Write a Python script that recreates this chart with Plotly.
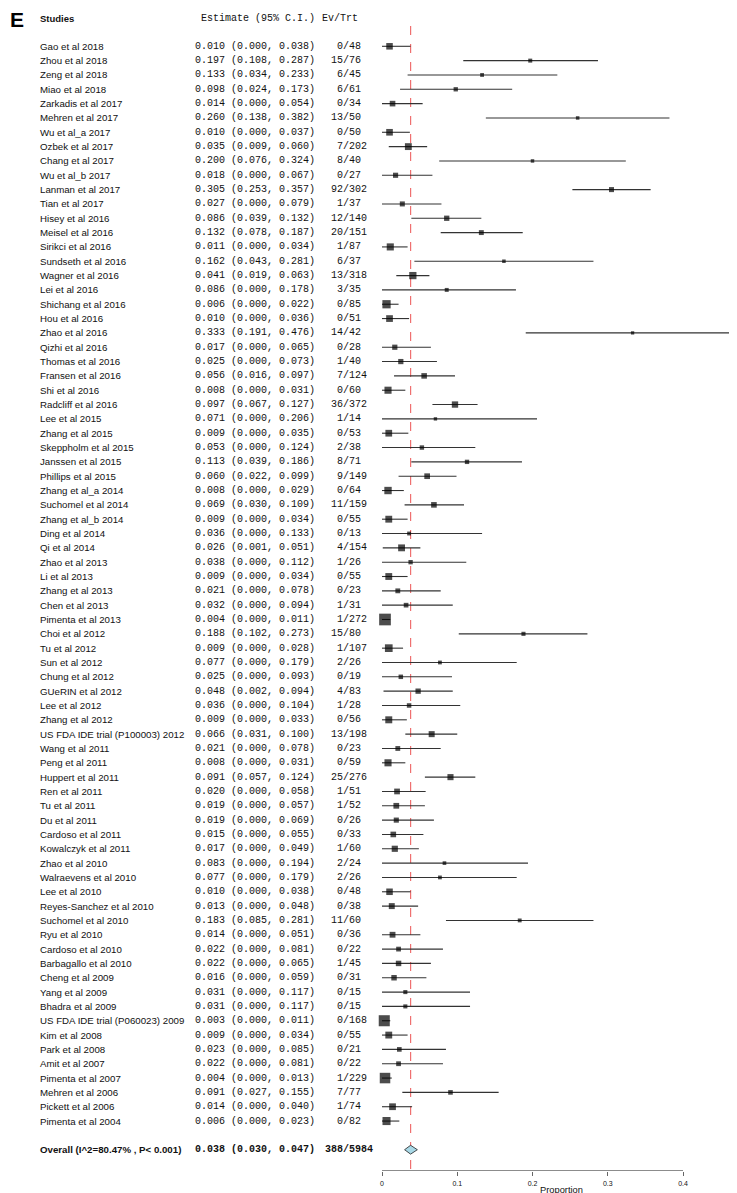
import plotly.graph_objects as go

# ---------------- data ----------------
studies = [
    "Gao et al 2018", "Zhou et al 2018", "Zeng et al 2018", "Miao et al 2018",
    "Zarkadis et al 2017", "Mehren et al 2017", "Wu et al_a 2017", "Ozbek et al 2017",
    "Chang et al 2017", "Wu et al_b 2017", "Lanman et al 2017", "Tian et al 2017",
    "Hisey et al 2016", "Meisel et al 2016", "Sirikci et al 2016", "Sundseth et al 2016",
    "Wagner et al 2016", "Lei et al 2016", "Shichang et al 2016", "Hou et al 2016",
    "Zhao et al 2016", "Qizhi et al 2016", "Thomas et al 2016", "Fransen et al 2016",
    "Shi et al 2016", "Radcliff et al 2016", "Lee et al 2015", "Zhang et al 2015",
    "Skeppholm et al 2015", "Janssen et al 2015", "Phillips et al 2015", "Zhang et al_a 2014",
    "Suchomel et al 2014", "Zhang et al_b 2014", "Ding et al 2014", "Qi et al 2014",
    "Zhao et al 2013", "Li et al 2013", "Zhang et al 2013", "Chen et al 2013",
    "Pimenta et al 2013", "Choi et al 2012", "Tu et al 2012", "Sun et al 2012",
    "Chung et al 2012", "GUeRIN et al 2012", "Lee et al 2012", "Zhang et al 2012",
    "US FDA IDE trial (P100003) 2012", "Wang et al 2011", "Peng et al 2011", "Huppert et al 2011",
    "Ren et al 2011", "Tu et al 2011", "Du et al 2011", "Cardoso et al 2011",
    "Kowalczyk et al 2011", "Zhao et al 2010", "Walraevens et al 2010", "Lee et al 2010",
    "Reyes-Sanchez et al 2010", "Suchomel et al 2010", "Ryu et al 2010", "Cardoso et al 2010",
    "Barbagallo et al 2010", "Cheng et al 2009", "Yang et al 2009", "Bhadra et al 2009",
    "US FDA IDE trial (P060023) 2009", "Kim et al 2008", "Park et al 2008", "Amit et al 2007",
    "Pimenta et al 2007", "Mehren et al 2006", "Pickett et al 2006", "Pimenta et al 2004",
]
estimate = [
    0.010, 0.197, 0.133, 0.098, 0.014, 0.260, 0.010, 0.035, 0.200, 0.018, 0.305, 0.027,
    0.086, 0.132, 0.011, 0.162, 0.041, 0.086, 0.006, 0.010, 0.333, 0.017, 0.025, 0.056,
    0.008, 0.097, 0.071, 0.009, 0.053, 0.113, 0.060, 0.008, 0.069, 0.009, 0.036, 0.026,
    0.038, 0.009, 0.021, 0.032, 0.004, 0.188, 0.009, 0.077, 0.025, 0.048, 0.036, 0.009,
    0.066, 0.021, 0.008, 0.091, 0.020, 0.019, 0.019, 0.015, 0.017, 0.083, 0.077, 0.010,
    0.013, 0.183, 0.014, 0.022, 0.022, 0.016, 0.031, 0.031, 0.003, 0.009, 0.023, 0.022,
    0.004, 0.091, 0.014, 0.006,
]
ci_lower = [
    0.000, 0.108, 0.034, 0.024, 0.000, 0.138, 0.000, 0.009, 0.076, 0.000, 0.253, 0.000,
    0.039, 0.078, 0.000, 0.043, 0.019, 0.000, 0.000, 0.000, 0.191, 0.000, 0.000, 0.016,
    0.000, 0.067, 0.000, 0.000, 0.000, 0.039, 0.022, 0.000, 0.030, 0.000, 0.000, 0.001,
    0.000, 0.000, 0.000, 0.000, 0.000, 0.102, 0.000, 0.000, 0.000, 0.002, 0.000, 0.000,
    0.031, 0.000, 0.000, 0.057, 0.000, 0.000, 0.000, 0.000, 0.000, 0.000, 0.000, 0.000,
    0.000, 0.085, 0.000, 0.000, 0.000, 0.000, 0.000, 0.000, 0.000, 0.000, 0.000, 0.000,
    0.000, 0.027, 0.000, 0.000,
]
ci_upper = [
    0.038, 0.287, 0.233, 0.173, 0.054, 0.382, 0.037, 0.060, 0.324, 0.067, 0.357, 0.079,
    0.132, 0.187, 0.034, 0.281, 0.063, 0.178, 0.022, 0.036, 0.476, 0.065, 0.073, 0.097,
    0.031, 0.127, 0.206, 0.035, 0.124, 0.186, 0.099, 0.029, 0.109, 0.034, 0.133, 0.051,
    0.112, 0.034, 0.078, 0.094, 0.011, 0.273, 0.028, 0.179, 0.093, 0.094, 0.104, 0.033,
    0.100, 0.078, 0.031, 0.124, 0.058, 0.057, 0.069, 0.055, 0.049, 0.194, 0.179, 0.038,
    0.048, 0.281, 0.051, 0.081, 0.065, 0.059, 0.117, 0.117, 0.011, 0.034, 0.085, 0.081,
    0.013, 0.155, 0.040, 0.023,
]
events = [
    0, 15, 6, 6, 0, 13, 0, 7, 8, 0, 92, 1,
    12, 20, 1, 6, 13, 3, 0, 0, 14, 0, 1, 7,
    0, 36, 1, 0, 2, 8, 9, 0, 11, 0, 0, 4,
    1, 0, 0, 1, 1, 15, 1, 2, 0, 4, 1, 0,
    13, 0, 0, 25, 1, 1, 0, 0, 1, 2, 2, 0,
    0, 11, 0, 0, 1, 0, 0, 0, 0, 0, 0, 0,
    1, 7, 1, 0,
]
totals = [
    48, 76, 45, 61, 34, 50, 50, 202, 40, 27, 302, 37,
    140, 151, 87, 37, 318, 35, 85, 51, 42, 28, 40, 124,
    60, 372, 14, 53, 38, 71, 149, 64, 159, 55, 13, 154,
    26, 55, 23, 31, 272, 80, 107, 26, 19, 83, 28, 56,
    198, 23, 59, 276, 51, 52, 26, 33, 60, 24, 26, 48,
    38, 60, 36, 22, 45, 31, 15, 15, 168, 55, 21, 22,
    229, 77, 74, 82,
]
overall_label = "Overall (I^2=80.47% , P< 0.001)"
overall_est = 0.038
overall_lower = 0.030
overall_upper = 0.047
overall_events = 388
overall_total = 5984
tick_values = [0, 0.1, 0.2, 0.3, 0.4]
tick_labels = ["0", "0.1", "0.2", "0.3", "0.4"]
panel_letter = "E"
header_study = "Studies"
header_est = "Estimate (95% C.I.)"
header_ev = "Ev/Trt"
x_title = "Proportion"

# ---------------- geometry ----------------
W, H = 737, 1193
ROW0, DY = 38.3, 14.33          # pixel of first row, row spacing
X0PX, PXU = 374.0, 752.5        # pixel of x=0, pixels per unit
AXIS_PX = 1163.0

def row_of(px):
    return (px - ROW0) / DY

def paper_x(px):
    return px / W

n = len(studies)
rows = list(range(n))
overall_row = n + 1
r_top = row_of(0)
r_axis = row_of(AXIS_PX)

SANS = "Liberation Sans, Arial, sans-serif"
MONO = "Liberation Mono, Courier New, monospace"
NB = "\u00a0"

fig = go.Figure()

# CI lines
lx, ly = [], []
for r, lo, hi in zip(rows, ci_lower, ci_upper):
    lx += [lo, hi, None]
    ly += [r, r, None]
fig.add_trace(go.Scatter(x=lx, y=ly, mode="lines",
                         line=dict(color="#333333", width=1.1),
                         hoverinfo="skip", showlegend=False))

# squares sized by precision
ref_se = 0.00357
sizes = []
for e, hi in zip(estimate, ci_upper):
    se = max((hi - e) / 1.96, 1e-4)
    sizes.append(max(3.3, 11.7 * (ref_se / se) ** 0.42))
fig.add_trace(go.Scatter(x=estimate, y=rows, mode="markers",
                         marker=dict(symbol="square", size=sizes, color="black",
                                     line=dict(width=0)),
                         cliponaxis=False, hoverinfo="skip", showlegend=False))

# overall diamond
dh = 0.31
fig.add_trace(go.Scatter(
    x=[overall_lower, overall_est, overall_upper, overall_est, overall_lower],
    y=[overall_row, overall_row - dh, overall_row, overall_row + dh, overall_row],
    mode="lines", fill="toself", fillcolor="#a8d8e6",
    line=dict(color="#222222", width=0.8),
    hoverinfo="skip", showlegend=False))

# dashed reference line
fig.add_shape(type="line", xref="x", yref="y",
              x0=overall_est, x1=overall_est, y0=row_of(18), y1=r_axis,
              line=dict(color="#ef7070", width=1.2, dash="dash"), layer="below")
# axis line from 0 to 0.4
fig.add_shape(type="line", xref="x", yref="y",
              x0=tick_values[0], x1=tick_values[-1], y0=r_axis, y1=r_axis,
              line=dict(color="#666666", width=1.6))

ann = []
def add_text(px, row, text, anchor, font, size, bold=False, color="#111111"):
    ann.append(dict(xref="paper", yref="y", x=paper_x(px), y=row,
                    text=("<b>%s</b>" % text) if bold else text,
                    showarrow=False, xanchor=anchor, yanchor="middle",
                    font=dict(family=font, size=size, color=color),
                    borderpad=0))

def ev_text(ev, tot, width=2):
    left = str(ev)
    return NB * max(0, width - len(left)) + left + "/" + str(tot)

# header
ann.append(dict(xref="paper", yref="paper", x=paper_x(1), y=1 - 11.5 / H,
                text="<b>%s</b>" % panel_letter, showarrow=False,
                xanchor="left", yanchor="middle",
                font=dict(family=SANS, size=21, color="black"), borderpad=0))
add_text(31, row_of(10), header_study, "left", SANS, 9.5, bold=True)
add_text(308, row_of(10), header_est, "right", MONO, 10)
add_text(313, row_of(10), header_ev, "left", MONO, 10)

for r, s, e, lo, hi, ev, tot in zip(rows, studies, estimate, ci_lower, ci_upper, events, totals):
    add_text(31, r, s, "left", SANS, 9.7)
    add_text(308, r, "%.3f (%.3f, %.3f)" % (e, lo, hi), "right", MONO, 10)
    add_text(322, r, ev_text(ev, tot), "left", MONO, 10)

add_text(31, overall_row, overall_label, "left", SANS, 9.7, bold=True)
add_text(308, overall_row, "%.3f (%.3f, %.3f)" % (overall_est, overall_lower, overall_upper),
         "right", MONO, 10, bold=True)
add_text(316, overall_row, ev_text(overall_events, overall_total, 3), "left", MONO, 10, bold=True)

# x title
ann.append(dict(xref="paper", yref="paper", x=paper_x(553), y=1 - 1182 / H,
                text=x_title, showarrow=False, xanchor="center", yanchor="middle",
                font=dict(family=SANS, size=9.3, color="#111111"), borderpad=0))

fig.update_layout(
    width=W, height=H,
    margin=dict(l=0, r=0, t=0, b=0),
    paper_bgcolor="white", plot_bgcolor="white",
    annotations=ann,
    xaxis=dict(domain=[0, 1], range=[-X0PX / PXU, (W - X0PX) / PXU],
               tickvals=tick_values, ticktext=tick_labels,
               ticks="outside", ticklen=4, tickwidth=1, tickcolor="#666666",
               showline=False, showgrid=False, zeroline=False,
               tickfont=dict(family=SANS, size=7, color="#111111"),
               ticklabelstandoff=2, fixedrange=True),
    yaxis=dict(domain=[(H - AXIS_PX) / H, 1], range=[r_axis, r_top],
               visible=False, showgrid=False, zeroline=False, fixedrange=True),
    showlegend=False,
)

fig.write_html("out.html")
